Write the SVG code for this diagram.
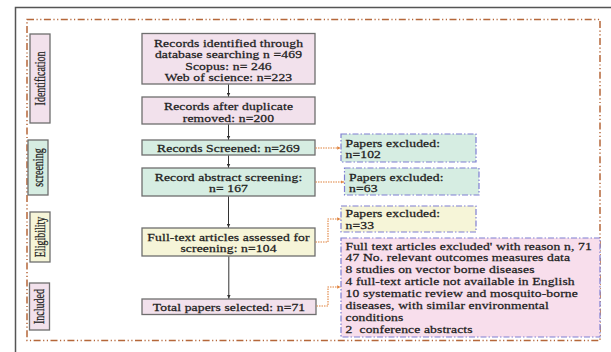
<svg xmlns="http://www.w3.org/2000/svg" width="611" height="352" viewBox="0 0 611 352">
<defs>
<style>
.t{font-family:"Liberation Serif","Times New Roman",serif;font-size:10px;fill:#1e1e1e;stroke:#1e1e1e;stroke-width:0.25px;letter-spacing:0.1px}
.c{text-anchor:middle}
.s{font-family:"Liberation Serif","Times New Roman",serif;font-size:10px;fill:#1e1e1e;stroke:#1e1e1e;stroke-width:0.2px;text-anchor:middle;dominant-baseline:central}
.pre{white-space:pre}
.box{stroke:#6e6e6e;stroke-width:1.3}
.pink{fill:#F2E1EC}
.green{fill:#D6EDE2}
.yellow{fill:#F6F5D8}
.ex{stroke:#7F7FD2;stroke-width:1.2;stroke-dasharray:6 2 1.5 2}
.frame{fill:none;stroke:#B5673A;stroke-width:1.5;stroke-dasharray:7 2.5 1.2 2.5 1.2 2.5}
.arr{stroke:#333;stroke-width:1;fill:none;marker-end:url(#ah)}
.oc{stroke:#E0823E;stroke-width:1.1;fill:none;stroke-dasharray:1.5 1;marker-end:url(#oh)}
</style>
<marker id="ah" viewBox="0 0 6 6" refX="6" refY="3" markerWidth="4" markerHeight="4" orient="auto"><path d="M0,0 L6,3 L0,6 z" fill="#333"/></marker>
<marker id="oh" viewBox="0 0 6 6" refX="6" refY="3" markerWidth="3" markerHeight="3" orient="auto"><path d="M0,0 L6,3 L0,6 z" fill="#E0823E"/></marker>
</defs>
<rect width="611" height="352" fill="#fff"/>
<path d="M15.5,352 V7.5 H611" fill="none" stroke="#555" stroke-width="1.5"/>
<rect class="frame" x="27" y="19.5" width="573" height="321"/>

<g id="lbl-identification"><rect class="box pink" x="30" y="34" width="20" height="89"/><text class="s" transform="translate(40,78.5) rotate(-90) scale(1,1.36)">Identification</text></g>
<g id="lbl-screening"><rect class="box green" x="28" y="140" width="20" height="55"/><text class="s" transform="translate(38,167.5) rotate(-90) scale(1,1.36)">screening</text></g>
<g id="lbl-eligibility"><rect class="box yellow" x="30" y="212" width="20" height="50"/><text class="s" transform="translate(40,237) rotate(-90) scale(1,1.36)">Eligibility</text></g>
<g id="lbl-included"><rect class="box pink" x="29.5" y="283" width="20" height="47"/><text class="s" transform="translate(39.5,306.5) rotate(-90) scale(1,1.36)">Included</text></g>

<g id="n-identified"><rect class="box pink" x="142" y="33.5" width="173" height="50.5"/>
<text class="t c" transform="translate(228.5,46.5) scale(1.36,1)">Records identified through</text>
<text class="t c" transform="translate(228.5,58) scale(1.36,1)">database searching n =469</text>
<text class="t c" transform="translate(228.5,69.5) scale(1.36,1)">Scopus: n= 246</text>
<text class="t c" transform="translate(228.5,81) scale(1.36,1)">Web of science: n=223</text></g>
<g id="n-duplicates"><rect class="box pink" x="142" y="97" width="173" height="27"/>
<text class="t c" transform="translate(228.5,110) scale(1.36,1)">Records after duplicate</text>
<text class="t c" transform="translate(228.5,121.5) scale(1.36,1)">removed: n=200</text></g>
<g id="n-screened"><rect class="box green" x="142" y="140" width="173" height="15"/>
<text class="t c" transform="translate(228.5,151.5) scale(1.36,1)">Records Screened: n=269</text></g>
<g id="n-abstract"><rect class="box green" x="142" y="168" width="173" height="28"/>
<text class="t c" transform="translate(228.5,180.5) scale(1.36,1)">Record abstract screening:</text>
<text class="t c" transform="translate(228.5,192) scale(1.36,1)">n= 167</text></g>
<g id="n-fulltext"><rect class="box yellow" x="142" y="228" width="173" height="28"/>
<text class="t c" transform="translate(228.5,240.5) scale(1.36,1)">Full-text articles assessed for</text>
<text class="t c" transform="translate(228.5,252) scale(1.36,1)">screening: n=104</text></g>
<g id="n-total"><rect class="box pink" x="142" y="299" width="174" height="15.5"/>
<text class="t c" transform="translate(229,310.5) scale(1.36,1)">Total papers selected: n=71</text></g>

<g id="x-102"><rect class="ex green" x="341" y="134" width="135" height="28"/>
<text class="t" transform="translate(345.5,146.5) scale(1.36,1)">Papers excluded:</text>
<text class="t" transform="translate(345.5,158) scale(1.36,1)">n=102</text></g>
<g id="x-63"><rect class="ex green" x="344.5" y="168" width="134.5" height="27"/>
<text class="t" transform="translate(349,180.5) scale(1.36,1)">Papers excluded:</text>
<text class="t" transform="translate(349,192) scale(1.36,1)">n=63</text></g>
<g id="x-33"><rect class="ex yellow" x="341" y="206" width="135" height="26"/>
<text class="t" transform="translate(345.5,217) scale(1.36,1)">Papers excluded:</text>
<text class="t" transform="translate(345.5,229) scale(1.36,1)">n=33</text></g>
<g id="x-reasons"><rect class="ex" fill="#F8DEEC" x="341" y="238" width="259" height="99"/>
<text class="t" transform="translate(345.5,249.5) scale(1.36,1)">Full text articles excluded' with reason n, 71</text>
<text class="t" transform="translate(345.5,261.3) scale(1.36,1)">47 No. relevant outcomes measures data</text>
<text class="t" transform="translate(345.5,273.2) scale(1.36,1)">8 studies on vector borne diseases</text>
<text class="t" transform="translate(345.5,285) scale(1.36,1)">4 full-text article not available in English</text>
<text class="t" transform="translate(345.5,296.9) scale(1.36,1)">10 systematic review and mosquito-borne</text>
<text class="t" transform="translate(345.5,308.7) scale(1.36,1)">diseases, with similar environmental</text>
<text class="t" transform="translate(345.5,320.6) scale(1.36,1)">conditions</text>
<text class="t pre" transform="translate(345.5,332.5) scale(1.36,1)">2  conference abstracts</text></g>

<g id="connectors">
<path class="arr" d="M228.5,84.5 V96.5"/>
<path class="arr" d="M228.5,124.5 V139.5"/>
<path class="arr" d="M228.5,155.5 V167.5"/>
<path class="arr" d="M228.5,196.5 V227.5"/>
<path class="arr" d="M228.8,256.5 V298.5"/>
<path class="oc" d="M315.5,148 H340.5"/>
<path class="oc" d="M315.5,182 H344"/>
<path class="oc" d="M315.5,242 H328 V219 H340.5"/>
<path class="oc" d="M316.5,306 H328 V287 H340.5"/>
</g>
</svg>
